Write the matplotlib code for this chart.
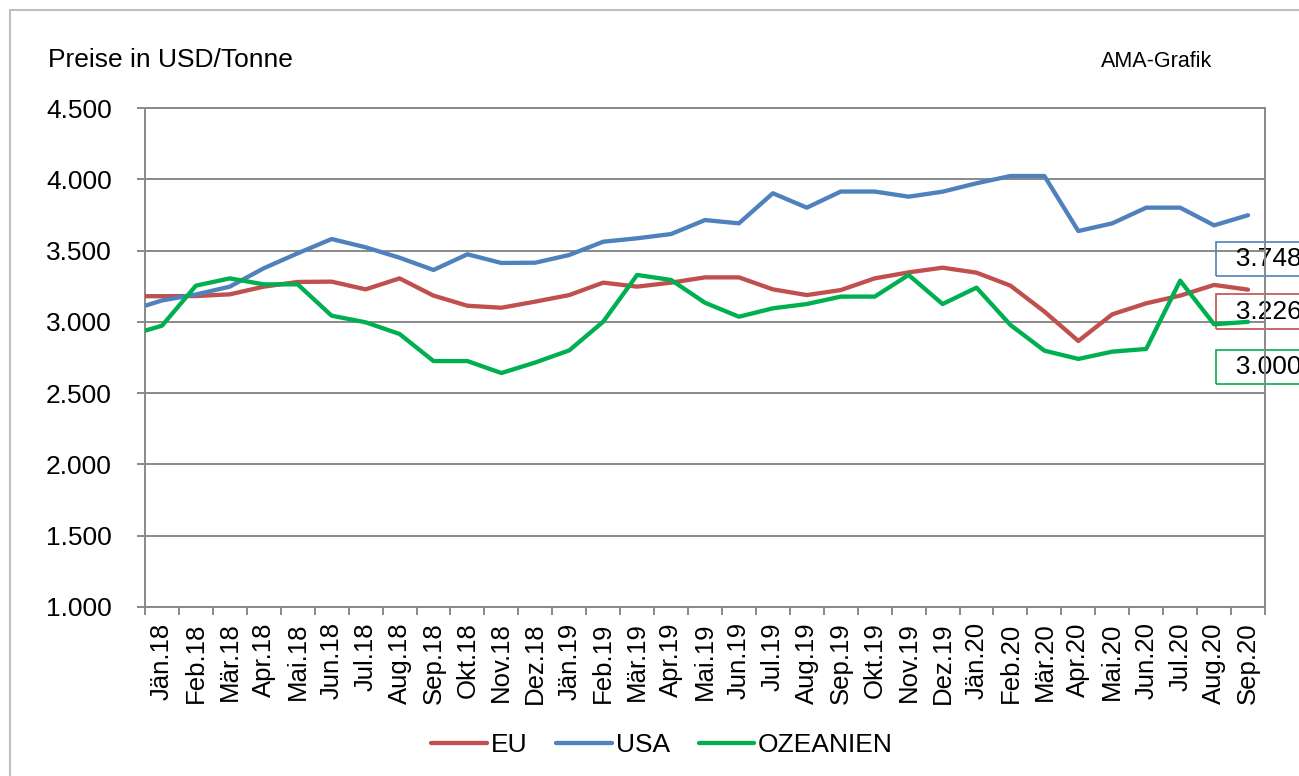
import numpy as np
import matplotlib
matplotlib.use("Agg")
import matplotlib.pyplot as plt
from matplotlib.patches import Rectangle
from matplotlib.ticker import FuncFormatter

plt.rcParams['font.family'] = ['Liberation Sans', 'DejaVu Sans']

# Months (first entry lies just left of the visible axis range)
months = ["Dez.17",
          "Jän.18", "Feb.18", "Mär.18", "Apr.18", "Mai.18", "Jun.18", "Jul.18", "Aug.18",
          "Sep.18", "Okt.18", "Nov.18", "Dez.18",
          "Jän.19", "Feb.19", "Mär.19", "Apr.19", "Mai.19", "Jun.19", "Jul.19", "Aug.19",
          "Sep.19", "Okt.19", "Nov.19", "Dez.19",
          "Jän.20", "Feb.20", "Mär.20", "Apr.20", "Mai.20", "Jun.20", "Jul.20", "Aug.20",
          "Sep.20"]

eu = [3180,
      3180, 3181, 3193, 3247, 3280, 3282, 3228, 3305, 3184, 3113, 3099, 3142,
      3188, 3275, 3247, 3275, 3312, 3312, 3228, 3188, 3223, 3305, 3347, 3380,
      3345, 3254, 3072, 2866, 3053, 3130, 3184, 3259, 3226]

usa = [3076,
       3150, 3192, 3247, 3376, 3481, 3581, 3523, 3450, 3364, 3474, 3413, 3415,
       3469, 3562, 3586, 3616, 3714, 3691, 3902, 3801, 3914, 3914, 3878, 3913,
       3972, 4023, 4023, 3637, 3691, 3801, 3801, 3677, 3748]

ozeanien = [2903,
            2973, 3254, 3305, 3263, 3263, 3043, 2997, 2915, 2725, 2725, 2641, 2715,
            2800, 3001, 3329, 3294, 3134, 3036, 3095, 3125, 3177, 3177, 3329, 3125,
            3240, 2978, 2798, 2740, 2791, 2810, 3289, 2983, 3000]

series_names = ["EU", "USA", "OZEANIEN"]
series_colors = ["#C0504D", "#4F81BD", "#00B050"]
label_values = ["3.748", "3.226", "3.000"]  # USA, EU, OZEANIEN end labels

W, H = 1299, 776
fig = plt.figure(figsize=(W / 100, H / 100), dpi=100)
ax = fig.add_axes([145 / W, 1 - 607 / H, (1265 - 145) / W, (607 - 108) / H])

x = np.arange(len(months)) - 1
lines = []
for vals, name, col in zip([eu, usa, ozeanien], series_names, series_colors):
    ln, = ax.plot(x, vals, color=col, lw=3.1, label=name,
                  solid_joinstyle='round', solid_capstyle='round', zorder=3)
    lines.append(ln)

ax.set_xlim(-0.5, len(months) - 1.5)
ax.set_ylim(1000, 4500)
ax.set_yticks(np.arange(1000, 4501, 500))
ax.yaxis.set_major_formatter(FuncFormatter(lambda v, p: f"{v:,.0f}".replace(",", ".")))

gray = "#898989"
ax.grid(axis='y', color=gray, lw=1.4, zorder=1)
ax.set_axisbelow(True)
for s in ax.spines.values():
    s.set_color(gray)
    s.set_linewidth(1.4)

vis_x = x[1:]
ax.set_xticks(vis_x)
ax.set_xticklabels(months[1:], rotation=90, fontsize=18.5, va='top', ha='center')
ax.set_xticks(np.arange(-0.5, len(months) - 1, 1.0), minor=True)
ax.tick_params(axis='x', which='major', length=0, pad=11)
ax.tick_params(axis='x', which='minor', length=6, width=1.4, color=gray, direction='out')
ax.tick_params(axis='y', length=6, width=1.4, color=gray, direction='out',
               labelsize=19, pad=18)

# End-of-series value labels
last = x[-1]
for val_list, txt, col, dy in [(usa, label_values[0], series_colors[1], -44),
                               (eu, label_values[1], series_colors[0], -22),
                               (ozeanien, label_values[2], series_colors[2], -45)]:
    ax.annotate("  " + txt, xy=(last, val_list[-1]), xytext=(-27, dy),
                textcoords='offset pixels', ha='left', va='center', fontsize=19,
                bbox=dict(boxstyle='square,pad=0.2', fc='none', ec=col, lw=1.2),
                annotation_clip=False, zorder=2)

fig.text(48 / W, 1 - 67 / H, "Preise in USD/Tonne", fontsize=19, ha='left', va='baseline')
fig.text(1101 / W, 1 - 67 / H, "AMA-Grafik", fontsize=15.5, ha='left', va='baseline')

fig.legend(handles=lines, labels=series_names, loc='center',
           bbox_to_anchor=(662 / W, 1 - 745 / H), ncol=3, frameon=False,
           fontsize=19, handlelength=2.1, handletextpad=0.15, columnspacing=1.1)

# outer chart frame
fig.patches.append(Rectangle((10 / W, -0.1), 2, 1 - 10 / H + 0.1, transform=fig.transFigure,
                             fill=False, edgecolor="#BFBFBF", lw=1.5))

fig.savefig("out.png", dpi=100)
